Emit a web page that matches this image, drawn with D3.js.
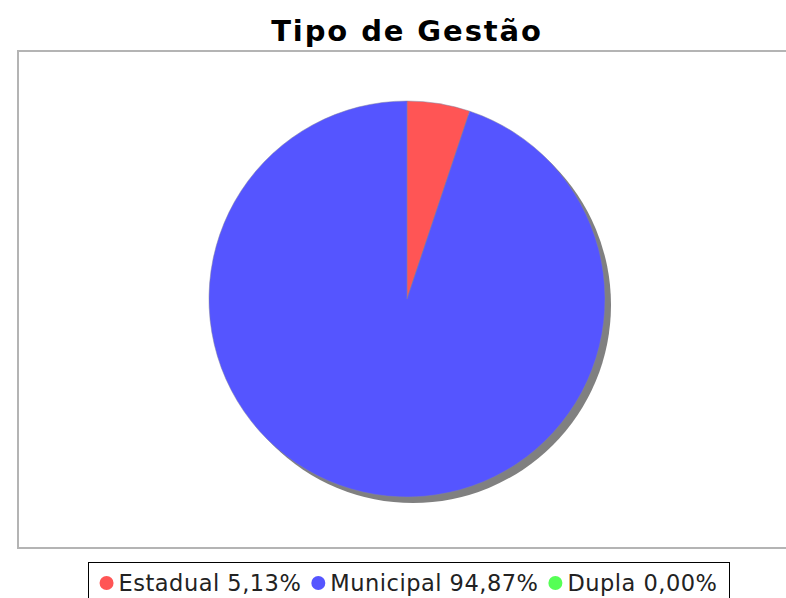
<!DOCTYPE html>
<html><head><meta charset="utf-8">
<script src="https://cdn.jsdelivr.net/npm/d3@7"></script>
<style>body{margin:0;background:#fff}svg{display:block}</style>
</head><body>
<svg id="c" width="786" height="598"></svg>
<script>
const title = "Tipo de Gestão";
const categories = ["Estadual", "Municipal", "Dupla"];
const values = [5.13, 94.87, 0.00];
const labels = ["Estadual 5,13%", "Municipal 94,87%", "Dupla 0,00%"];
const colors = ["#FF5555", "#5555FF", "#55FF55"];

const svg = d3.select("#c");
const W = 786, H = 598;
svg.append("rect").attr("width", W).attr("height", H).attr("fill", "#fff");

// title
svg.append("text").attr("x", 407).attr("y", 41).attr("text-anchor", "middle")
  .attr("font-family", "DejaVu Sans").attr("font-weight", "bold").attr("font-size", 29)
  .attr("letter-spacing", 1.9)
  .text(title);

// plot area
svg.append("rect").attr("x", 18).attr("y", 51).attr("width", 790).attr("height", 497)
  .attr("fill", "#fff").attr("stroke", "#b4b4b4").attr("stroke-width", 2);

const cx = 407, cy = 299, r = 198;
const pie = d3.pie().sort(null).value(d => d)(values);
const arc = d3.arc().innerRadius(0).outerRadius(r);

// shadow
svg.append("circle").attr("cx", cx + 6).attr("cy", cy + 6).attr("r", r).attr("fill", "#808080");

const g = svg.append("g").attr("transform", `translate(${cx},${cy})`);
g.selectAll("path").data(pie.filter(d => d.value > 0)).join("path")
  .attr("d", arc).attr("fill", (d) => colors[d.index])
  .attr("stroke", "#8080a0").attr("stroke-width", 0.5);

// legend
const fs = 22.5;
const lg = svg.append("g");
let x = 0;
labels.forEach((t, i) => {
  const it = lg.append("g");
  it.append("circle").attr("cx", x + 7).attr("cy", 0).attr("r", 7).attr("fill", colors[i]);
  const tx = it.append("text").attr("x", x + 19).attr("y", 8)
    .attr("font-family", "DejaVu Sans").attr("font-size", fs).attr("fill", "#222")
    .attr("letter-spacing", 0.5).text(t);
  const w = tx.node().getComputedTextLength();
  x += 19 + w + 10;
});
const total = x - 10;
const bx0 = 88, bx1 = 729;
const off = (bx0 + bx1) / 2 - total / 2;
lg.attr("transform", `translate(${off},583)`);
svg.insert("rect", "g").attr("x", bx0 + 0.5).attr("y", 562.5).attr("width", bx1 - bx0).attr("height", 50)
  .attr("fill", "#fff").attr("stroke", "#000").attr("stroke-width", 1);
</script>
</body></html>
